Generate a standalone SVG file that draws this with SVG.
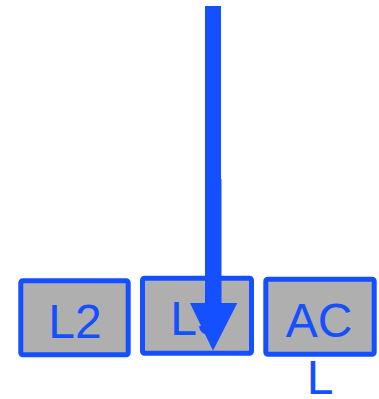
<svg xmlns="http://www.w3.org/2000/svg" width="379" height="399" viewBox="0 0 379 399">
<style>
.box{fill:#afafaf;stroke:#1450ff;stroke-width:5}
.lbl{font-family:"Liberation Sans",Arial,sans-serif;font-size:48px;fill:#1450ff;text-anchor:middle}
.arr{fill:#1450ff}
</style>
<rect width="379" height="399" fill="#ffffff"/>
<g id="node-l2">
<rect class="box" x="20.8" y="280.8" width="107.4" height="74" rx="2"/>
<text class="lbl" x="75" y="338">L2</text>
</g>
<g id="node-mid">
<rect class="box" x="142.5" y="278.2" width="109" height="75" rx="2"/>
<text class="lbl" x="197" y="335">L3</text>
</g>
<g id="node-ac">
<rect class="box" x="265.8" y="279.2" width="108.4" height="75" rx="2"/>
<text class="lbl" x="319" y="337">AC</text>
</g>
<g id="label-l">
<text class="lbl" x="320" y="394">L</text>
</g>
<g id="connectors">
<rect class="arr" x="205" y="6" width="16" height="174"/>
<rect class="arr" x="205" y="179" width="16.5" height="125"/>
<polygon class="arr" points="190,303 237.3,303 213,350.7"/>
</g>
</svg>
